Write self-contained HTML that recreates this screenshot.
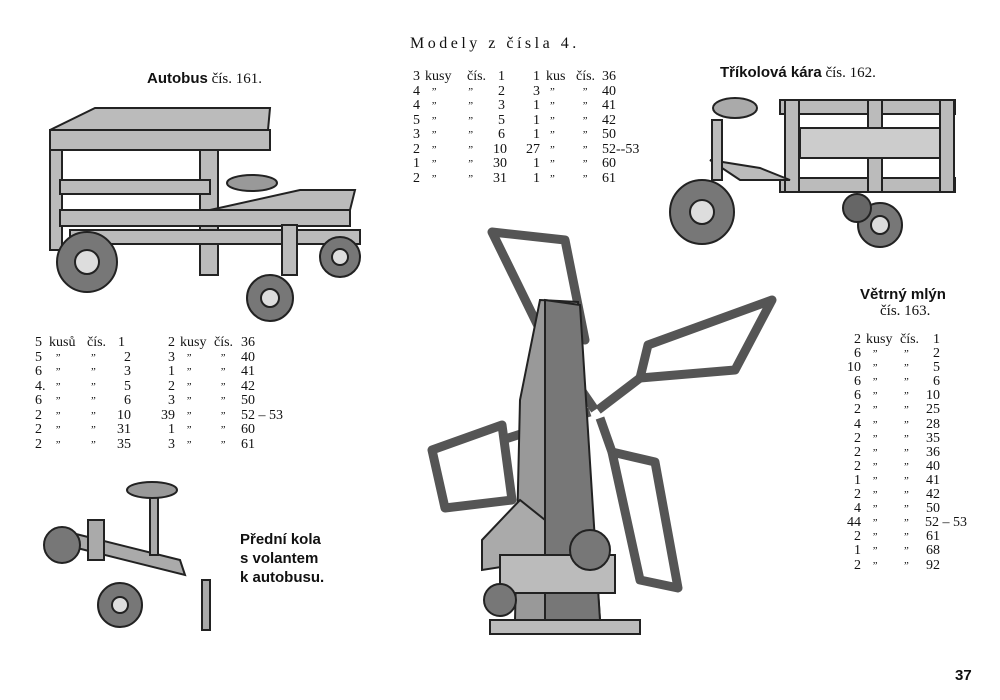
<!DOCTYPE html>
<html><head><meta charset="utf-8"><style>
body{margin:0;width:1000px;height:700px;background:#fff;position:relative;overflow:hidden;font-family:"Liberation Serif",serif;color:#111}
.a{position:absolute;white-space:nowrap}
.t{position:absolute;font-size:14px;line-height:14.5px}
.r{display:flex;height:14.5px}
.r span{display:inline-block}
.q{text-align:right}.n{text-align:right}
.d{font-size:11px;font-style:italic}
.b{font-family:"Liberation Sans",sans-serif;font-weight:bold}
svg{position:absolute;left:0;top:0}
</style></head><body>
<svg width="1000" height="700" fill="none" stroke="#222" stroke-width="2">
<!-- bus -->
<g fill="#bbb">
<polygon points="50,130 95,108 270,108 268,130"/>
<rect x="50" y="130" width="220" height="20" />
<rect x="50" y="150" width="12" height="100"/>
<rect x="200" y="150" width="18" height="125"/>
<rect x="60" y="180" width="150" height="14"/>
<rect x="60" y="210" width="290" height="16"/>
<polygon points="210,210 300,190 355,190 350,210"/>
<rect x="70" y="230" width="290" height="14"/>
<rect x="282" y="225" width="15" height="50"/>
</g>
<circle cx="87" cy="262" r="30" fill="#777"/><circle cx="87" cy="262" r="12" fill="#ddd"/>
<circle cx="270" cy="298" r="23" fill="#777"/><circle cx="270" cy="298" r="9" fill="#ddd"/>
<circle cx="340" cy="257" r="20" fill="#777"/><circle cx="340" cy="257" r="8" fill="#ddd"/>
<ellipse cx="252" cy="183" rx="25" ry="8" fill="#999"/>
<!-- tricycle -->
<g fill="#bbb">
<rect x="780" y="100" width="175" height="14"/>
<rect x="780" y="178" width="175" height="14"/>
<rect x="785" y="100" width="14" height="92"/>
<rect x="868" y="100" width="14" height="92"/>
<rect x="940" y="100" width="14" height="92"/>
<rect x="800" y="128" width="140" height="30" fill="#ccc"/>
<polygon points="710,160 760,168 790,180 740,180"/>
<rect x="712" y="120" width="10" height="60"/>
</g>
<circle cx="702" cy="212" r="32" fill="#777"/><circle cx="702" cy="212" r="12" fill="#ddd"/>
<circle cx="880" cy="225" r="22" fill="#777"/><circle cx="880" cy="225" r="9" fill="#ddd"/>
<circle cx="857" cy="208" r="14" fill="#666"/>
<ellipse cx="735" cy="108" rx="22" ry="10" fill="#aaa"/>
<!-- windmill -->
<g stroke="#555" stroke-width="9" stroke-linejoin="round">
<polygon points="492,232 565,240 585,340 540,330"/>
<line x1="540" y1="330" x2="595" y2="410"/>
<polygon points="648,345 772,300 735,370 640,378"/>
<line x1="640" y1="378" x2="598" y2="410"/>
<polygon points="432,450 502,425 512,500 445,508"/>
<line x1="502" y1="440" x2="590" y2="412"/>
<polygon points="612,452 655,462 678,588 640,580"/>
<line x1="600" y1="418" x2="612" y2="452"/>
</g>
<g fill="#999">
<polygon points="540,300 578,302 600,620 515,620 520,400"/>
<polygon points="545,300 580,305 600,620 545,620" fill="#777"/>
<polygon points="482,540 520,500 545,520 545,560 482,570" fill="#aaa"/>
<rect x="500" y="555" width="115" height="38" fill="#bbb"/>
<rect x="490" y="620" width="150" height="14" fill="#bbb"/>
</g>
<circle cx="590" cy="550" r="20" fill="#777"/>
<circle cx="500" cy="600" r="16" fill="#777"/>
<!-- steering -->
<g fill="#aaa">
<polygon points="60,530 180,560 185,575 65,545"/>
<rect x="150" y="495" width="8" height="60"/>
<rect x="88" y="520" width="16" height="40"/>
<rect x="202" y="580" width="8" height="50"/>
</g>
<ellipse cx="152" cy="490" rx="25" ry="8" fill="#999"/>
<circle cx="62" cy="545" r="18" fill="#777"/>
<circle cx="120" cy="605" r="22" fill="#777"/><circle cx="120" cy="605" r="8" fill="#ddd"/>
</svg>

<div class="a" style="left:410px;top:35px;font-size:16px;letter-spacing:3.5px">Modely z čísla 4.</div>
<div class="a" style="left:147px;top:70px;font-size:15px"><span class="b">Autobus</span> čís. 161.</div>
<div class="a" style="left:720px;top:64px;font-size:15px"><span class="b">Tříkolová kára</span> čís. 162.</div>
<div class="a b" style="left:860px;top:286px;font-size:15px">Větrný mlýn</div>
<div class="a" style="left:880px;top:303px;font-size:15px">čís. 163.</div>
<div class="a b" style="left:240px;top:530px;font-size:15px;line-height:19px">Přední kola<br>s volantem<br>k autobusu.</div>
<div class="a b" style="left:955px;top:667px;font-size:15px">37</div>

<!-- middle table -->
<div class="t" style="left:410px;top:70px">
<div class="r"><span class="q" style="width:10px">3</span><span style="width:42px;padding-left:5px">kusy</span><span style="width:30px">čís.</span><span class="n" style="width:8px">1</span></div>
<div class="r"><span class="q" style="width:10px">4</span><span class="d" style="width:42px;padding-left:5px">&nbsp;&nbsp;”</span><span class="d" style="width:26px">”</span><span class="n" style="width:12px">2</span></div>
<div class="r"><span class="q" style="width:10px">4</span><span class="d" style="width:42px;padding-left:5px">&nbsp;&nbsp;”</span><span class="d" style="width:26px">”</span><span class="n" style="width:12px">3</span></div>
<div class="r"><span class="q" style="width:10px">5</span><span class="d" style="width:42px;padding-left:5px">&nbsp;&nbsp;”</span><span class="d" style="width:26px">”</span><span class="n" style="width:12px">5</span></div>
<div class="r"><span class="q" style="width:10px">3</span><span class="d" style="width:42px;padding-left:5px">&nbsp;&nbsp;”</span><span class="d" style="width:26px">”</span><span class="n" style="width:12px">6</span></div>
<div class="r"><span class="q" style="width:10px">2</span><span class="d" style="width:42px;padding-left:5px">&nbsp;&nbsp;”</span><span class="d" style="width:26px">”</span><span class="n" style="width:12px">10</span></div>
<div class="r"><span class="q" style="width:10px">1</span><span class="d" style="width:42px;padding-left:5px">&nbsp;&nbsp;”</span><span class="d" style="width:26px">”</span><span class="n" style="width:12px">30</span></div>
<div class="r"><span class="q" style="width:10px">2</span><span class="d" style="width:42px;padding-left:5px">&nbsp;&nbsp;”</span><span class="d" style="width:26px">”</span><span class="n" style="width:12px">31</span></div>
</div>
<div class="t" style="left:520px;top:70px">
<div class="r"><span class="q" style="width:20px">1</span><span style="width:30px;padding-left:6px">kus</span><span style="width:26px">čís.</span><span>36</span></div>
<div class="r"><span class="q" style="width:20px">3</span><span class="d" style="width:30px;padding-left:6px">&nbsp;”</span><span class="d" style="width:26px">&nbsp;&nbsp;”</span><span>40</span></div>
<div class="r"><span class="q" style="width:20px">1</span><span class="d" style="width:30px;padding-left:6px">&nbsp;”</span><span class="d" style="width:26px">&nbsp;&nbsp;”</span><span>41</span></div>
<div class="r"><span class="q" style="width:20px">1</span><span class="d" style="width:30px;padding-left:6px">&nbsp;”</span><span class="d" style="width:26px">&nbsp;&nbsp;”</span><span>42</span></div>
<div class="r"><span class="q" style="width:20px">1</span><span class="d" style="width:30px;padding-left:6px">&nbsp;”</span><span class="d" style="width:26px">&nbsp;&nbsp;”</span><span>50</span></div>
<div class="r"><span class="q" style="width:20px">27</span><span class="d" style="width:30px;padding-left:6px">&nbsp;”</span><span class="d" style="width:26px">&nbsp;&nbsp;”</span><span>52--53</span></div>
<div class="r"><span class="q" style="width:20px">1</span><span class="d" style="width:30px;padding-left:6px">&nbsp;”</span><span class="d" style="width:26px">&nbsp;&nbsp;”</span><span>60</span></div>
<div class="r"><span class="q" style="width:20px">1</span><span class="d" style="width:30px;padding-left:6px">&nbsp;”</span><span class="d" style="width:26px">&nbsp;&nbsp;”</span><span>61</span></div>
</div>

<!-- left table -->
<div class="t" style="left:35px;top:336px">
<div class="r"><span style="width:10px">5</span><span style="width:38px;padding-left:4px">kusů</span><span style="width:28px">čís.</span><span class="n" style="width:10px">1</span></div>
<div class="r"><span style="width:10px">5</span><span class="d" style="width:38px;padding-left:4px">&nbsp;&nbsp;”</span><span class="d" style="width:24px">&nbsp;”</span><span class="n" style="width:20px">2</span></div>
<div class="r"><span style="width:10px">6</span><span class="d" style="width:38px;padding-left:4px">&nbsp;&nbsp;”</span><span class="d" style="width:24px">&nbsp;”</span><span class="n" style="width:20px">3</span></div>
<div class="r"><span style="width:10px">4.</span><span class="d" style="width:38px;padding-left:4px">&nbsp;&nbsp;”</span><span class="d" style="width:24px">&nbsp;”</span><span class="n" style="width:20px">5</span></div>
<div class="r"><span style="width:10px">6</span><span class="d" style="width:38px;padding-left:4px">&nbsp;&nbsp;”</span><span class="d" style="width:24px">&nbsp;”</span><span class="n" style="width:20px">6</span></div>
<div class="r"><span style="width:10px">2</span><span class="d" style="width:38px;padding-left:4px">&nbsp;&nbsp;”</span><span class="d" style="width:24px">&nbsp;”</span><span class="n" style="width:20px">10</span></div>
<div class="r"><span style="width:10px">2</span><span class="d" style="width:38px;padding-left:4px">&nbsp;&nbsp;”</span><span class="d" style="width:24px">&nbsp;”</span><span class="n" style="width:20px">31</span></div>
<div class="r"><span style="width:10px">2</span><span class="d" style="width:38px;padding-left:4px">&nbsp;&nbsp;”</span><span class="d" style="width:24px">&nbsp;”</span><span class="n" style="width:20px">35</span></div>
</div>
<div class="t" style="left:155px;top:336px">
<div class="r"><span class="q" style="width:20px">2</span><span style="width:34px;padding-left:5px">kusy</span><span style="width:27px">čís.</span><span>36</span></div>
<div class="r"><span class="q" style="width:20px">3</span><span class="d" style="width:34px;padding-left:5px">&nbsp;&nbsp;”</span><span class="d" style="width:27px">&nbsp;&nbsp;”</span><span>40</span></div>
<div class="r"><span class="q" style="width:20px">1</span><span class="d" style="width:34px;padding-left:5px">&nbsp;&nbsp;”</span><span class="d" style="width:27px">&nbsp;&nbsp;”</span><span>41</span></div>
<div class="r"><span class="q" style="width:20px">2</span><span class="d" style="width:34px;padding-left:5px">&nbsp;&nbsp;”</span><span class="d" style="width:27px">&nbsp;&nbsp;”</span><span>42</span></div>
<div class="r"><span class="q" style="width:20px">3</span><span class="d" style="width:34px;padding-left:5px">&nbsp;&nbsp;”</span><span class="d" style="width:27px">&nbsp;&nbsp;”</span><span>50</span></div>
<div class="r"><span class="q" style="width:20px">39</span><span class="d" style="width:34px;padding-left:5px">&nbsp;&nbsp;”</span><span class="d" style="width:27px">&nbsp;&nbsp;”</span><span>52 – 53</span></div>
<div class="r"><span class="q" style="width:20px">1</span><span class="d" style="width:34px;padding-left:5px">&nbsp;&nbsp;”</span><span class="d" style="width:27px">&nbsp;&nbsp;”</span><span>60</span></div>
<div class="r"><span class="q" style="width:20px">3</span><span class="d" style="width:34px;padding-left:5px">&nbsp;&nbsp;”</span><span class="d" style="width:27px">&nbsp;&nbsp;”</span><span>61</span></div>
</div>

<!-- right table -->
<div class="t" style="left:845px;top:333px;line-height:14.1px">
<div class="r" style="height:14.1px"><span class="q" style="width:16px">2</span><span style="width:34px;padding-left:5px">kusy</span><span style="width:30px">čís.</span><span class="n" style="width:10px">1</span></div>
<div class="r" style="height:14.1px"><span class="q" style="width:16px">6</span><span class="d" style="width:34px;padding-left:5px">&nbsp;&nbsp;”</span><span class="d" style="width:25px">&nbsp;”</span><span class="n" style="width:15px">2</span></div>
<div class="r" style="height:14.1px"><span class="q" style="width:16px">10</span><span class="d" style="width:34px;padding-left:5px">&nbsp;&nbsp;”</span><span class="d" style="width:25px">&nbsp;”</span><span class="n" style="width:15px">5</span></div>
<div class="r" style="height:14.1px"><span class="q" style="width:16px">6</span><span class="d" style="width:34px;padding-left:5px">&nbsp;&nbsp;”</span><span class="d" style="width:25px">&nbsp;”</span><span class="n" style="width:15px">6</span></div>
<div class="r" style="height:14.1px"><span class="q" style="width:16px">6</span><span class="d" style="width:34px;padding-left:5px">&nbsp;&nbsp;”</span><span class="d" style="width:25px">&nbsp;”</span><span class="n" style="width:15px">10</span></div>
<div class="r" style="height:14.1px"><span class="q" style="width:16px">2</span><span class="d" style="width:34px;padding-left:5px">&nbsp;&nbsp;”</span><span class="d" style="width:25px">&nbsp;”</span><span class="n" style="width:15px">25</span></div>
<div class="r" style="height:14.1px"><span class="q" style="width:16px">4</span><span class="d" style="width:34px;padding-left:5px">&nbsp;&nbsp;”</span><span class="d" style="width:25px">&nbsp;”</span><span class="n" style="width:15px">28</span></div>
<div class="r" style="height:14.1px"><span class="q" style="width:16px">2</span><span class="d" style="width:34px;padding-left:5px">&nbsp;&nbsp;”</span><span class="d" style="width:25px">&nbsp;”</span><span class="n" style="width:15px">35</span></div>
<div class="r" style="height:14.1px"><span class="q" style="width:16px">2</span><span class="d" style="width:34px;padding-left:5px">&nbsp;&nbsp;”</span><span class="d" style="width:25px">&nbsp;”</span><span class="n" style="width:15px">36</span></div>
<div class="r" style="height:14.1px"><span class="q" style="width:16px">2</span><span class="d" style="width:34px;padding-left:5px">&nbsp;&nbsp;”</span><span class="d" style="width:25px">&nbsp;”</span><span class="n" style="width:15px">40</span></div>
<div class="r" style="height:14.1px"><span class="q" style="width:16px">1</span><span class="d" style="width:34px;padding-left:5px">&nbsp;&nbsp;”</span><span class="d" style="width:25px">&nbsp;”</span><span class="n" style="width:15px">41</span></div>
<div class="r" style="height:14.1px"><span class="q" style="width:16px">2</span><span class="d" style="width:34px;padding-left:5px">&nbsp;&nbsp;”</span><span class="d" style="width:25px">&nbsp;”</span><span class="n" style="width:15px">42</span></div>
<div class="r" style="height:14.1px"><span class="q" style="width:16px">4</span><span class="d" style="width:34px;padding-left:5px">&nbsp;&nbsp;”</span><span class="d" style="width:25px">&nbsp;”</span><span class="n" style="width:15px">50</span></div>
<div class="r" style="height:14.1px"><span class="q" style="width:16px">44</span><span class="d" style="width:34px;padding-left:5px">&nbsp;&nbsp;”</span><span class="d" style="width:25px">&nbsp;”</span><span>52 – 53</span></div>
<div class="r" style="height:14.1px"><span class="q" style="width:16px">2</span><span class="d" style="width:34px;padding-left:5px">&nbsp;&nbsp;”</span><span class="d" style="width:25px">&nbsp;”</span><span class="n" style="width:15px">61</span></div>
<div class="r" style="height:14.1px"><span class="q" style="width:16px">1</span><span class="d" style="width:34px;padding-left:5px">&nbsp;&nbsp;”</span><span class="d" style="width:25px">&nbsp;”</span><span class="n" style="width:15px">68</span></div>
<div class="r" style="height:14.1px"><span class="q" style="width:16px">2</span><span class="d" style="width:34px;padding-left:5px">&nbsp;&nbsp;”</span><span class="d" style="width:25px">&nbsp;”</span><span class="n" style="width:15px">92</span></div>
</div>
</body></html>
